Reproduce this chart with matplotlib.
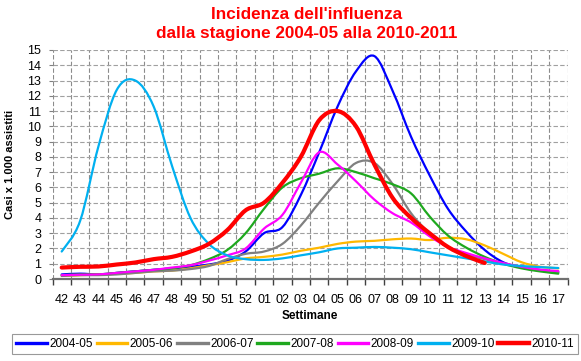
import numpy as np
import matplotlib
matplotlib.use('Agg')
import matplotlib.pyplot as plt
from matplotlib.path import Path
from matplotlib.patches import PathPatch
from matplotlib.lines import Line2D

plt.rcParams['font.family'] = ['Liberation Sans', 'DejaVu Sans']

weeks = ['42', '43', '44', '45', '46', '47', '48', '49', '50', '51', '52',
         '01', '02', '03', '04', '05', '06', '07', '08', '09', '10', '11',
         '12', '13', '14', '15', '16', '17']

s0405 = [0.3, 0.35, 0.3, 0.4, 0.5, 0.6, 0.7, 0.8, 0.95, 1.2, 1.8, 3.0, 3.4, 5.5,
         8.3, 11.3, 13.6, 14.6, 12.3, 9.3, 6.8, 4.6, 3.1, 1.9, 1.1, 0.75, 0.55, 0.45]
s0506 = [0.2, 0.25, 0.3, 0.35, 0.4, 0.5, 0.55, 0.7, 0.9, 1.1, 1.35, 1.45, 1.6, 1.85,
         2.05, 2.3, 2.45, 2.5, 2.6, 2.65, 2.55, 2.7, 2.6, 2.2, 1.65, 1.1, 0.8, 0.7]
s0607 = [0.2, 0.25, 0.25, 0.3, 0.4, 0.5, 0.55, 0.65, 0.85, 1.3, 1.65, 1.8, 2.3, 3.5,
         5.0, 6.4, 7.6, 7.6, 6.2, 4.3, 3.0, 2.1, 1.6, 1.3, 1.0, 0.8, 0.6, 0.45]
s0708 = [0.25, 0.3, 0.3, 0.4, 0.5, 0.6, 0.7, 0.9, 1.3, 1.9, 3.0, 4.6, 6.0, 6.6,
         6.9, 7.25, 7.0, 6.6, 6.2, 5.6, 4.1, 2.85, 2.05, 1.45, 1.0, 0.7, 0.5, 0.35]
s0809 = [0.25, 0.28, 0.3, 0.4, 0.5, 0.6, 0.75, 0.9, 1.2, 1.55, 2.0, 3.3, 4.2, 6.3,
         8.3, 7.5, 6.4, 5.2, 4.3, 3.7, 2.8, 2.1, 1.7, 1.35, 1.05, 0.8, 0.62, 0.52]
s0910 = [1.8, 3.8, 8.7, 12.4, 13.0, 11.3, 7.4, 4.0, 2.3, 1.55, 1.3, 1.25, 1.35, 1.55,
         1.75, 2.0, 2.05, 2.1, 2.05, 1.95, 1.75, 1.55, 1.35, 1.15, 0.95, 0.85, 0.78, 0.72]
s1011 = [0.75, 0.8, 0.82, 0.95, 1.08, 1.3, 1.45, 1.8, 2.3, 3.2, 4.5, 5.0, 6.3, 8.0,
         10.4, 11.0, 10.0, 7.5, 5.3, 4.0, 3.0, 2.1, 1.5, 1.05]

series = [
    ('2004-05', s0405, '#0000FF', 1.6),
    ('2005-06', s0506, '#FFB800', 1.6),
    ('2006-07', s0607, '#808080', 1.6),
    ('2007-08', s0708, '#1EA81E', 1.6),
    ('2008-09', s0809, '#FF00FF', 1.6),
    ('2009-10', s0910, '#00B0F0', 1.6),
    ('2010-11', s1011, '#FF0000', 3.0),
]


def smooth_path(y):
    # Excel-like smoothed line: cubic bezier through each point
    x = np.arange(len(y), dtype=float)
    y = np.asarray(y, dtype=float)
    pts = np.column_stack([x, y])
    n = len(pts)
    verts = [pts[0]]
    codes = [Path.MOVETO]
    for i in range(n - 1):
        p0 = pts[max(i - 1, 0)]
        p1 = pts[i]
        p2 = pts[i + 1]
        p3 = pts[min(i + 2, n - 1)]
        verts += [p1 + (p2 - p0) / 6, p2 - (p3 - p1) / 6, p2]
        codes += [Path.CURVE4] * 3
    return Path(verts, codes)


fig = plt.figure(figsize=(5.81, 3.61), dpi=100)
ax = fig.add_axes([52.5 / 581, 1 - 279 / 361, 515 / 581, 229 / 361])

for name, vals, col, lw in series:
    ax.add_patch(PathPatch(smooth_path(vals), fill=False, edgecolor=col, lw=lw,
                           capstyle='round', joinstyle='round', zorder=3))

ax.set_xlim(-0.5, len(weeks) - 0.5)
ax.set_ylim(0, 15)
ax.set_xticks(range(len(weeks)))
ax.set_xticklabels(weeks)
ax.set_xticks(np.arange(-0.5, len(weeks)), minor=True)
ax.set_yticks(range(0, 16))

ax.tick_params(axis='x', which='major', length=0, pad=11, labelsize=9)
ax.tick_params(axis='x', which='minor', length=4, width=1, color='#404040', direction='out')
ax.tick_params(axis='y', length=3, width=0.8, color='#808080', pad=5, labelsize=9)

ax.grid(axis='x', which='minor', color='#8c8c8c', linestyle=(0, (4, 2)), lw=0.8)
ax.grid(axis='y', which='major', color='#a0a0a0', linestyle=(0, (4, 2)), lw=0.8)
ax.set_axisbelow(True)

for s in ['top', 'right', 'left']:
    ax.spines[s].set_visible(False)
ax.spines['bottom'].set_color('#707070')
ax.spines['bottom'].set_linewidth(1.6)
ax.spines['bottom'].set_zorder(4)

ax.set_xlabel('Settimane', fontsize=8.5, fontweight='bold', labelpad=3)
ax.set_ylabel('Casi x 1.000 assistiti', fontsize=8, fontweight='bold', labelpad=9)

fig.text(307 / 581, 1 - 24 / 361, "Incidenza dell'influenza\ndalla stagione 2004-05 alla 2010-2011",
         ha='center', va='center', fontsize=12.3, fontweight='bold', color='#FF0000',
         linespacing=1.4)

handles = [Line2D([], [], color=c, lw=2.4 if lw < 2 else 3.2) for _, _, c, lw in series]
labels = [n for n, _, _, _ in series]
leg = fig.legend(handles, labels, loc='lower left', ncol=7, mode='expand',
                 bbox_to_anchor=(12 / 581, 1 - 354 / 361, 566 / 581, 20 / 361),
                 fontsize=8.5, frameon=True, fancybox=False, edgecolor='#808080',
                 handlelength=2.6, handletextpad=0.2, borderaxespad=0, borderpad=0.35,
                 columnspacing=0.5)
leg.get_frame().set_linewidth(0.8)

fig.savefig('out.png', dpi=100)
